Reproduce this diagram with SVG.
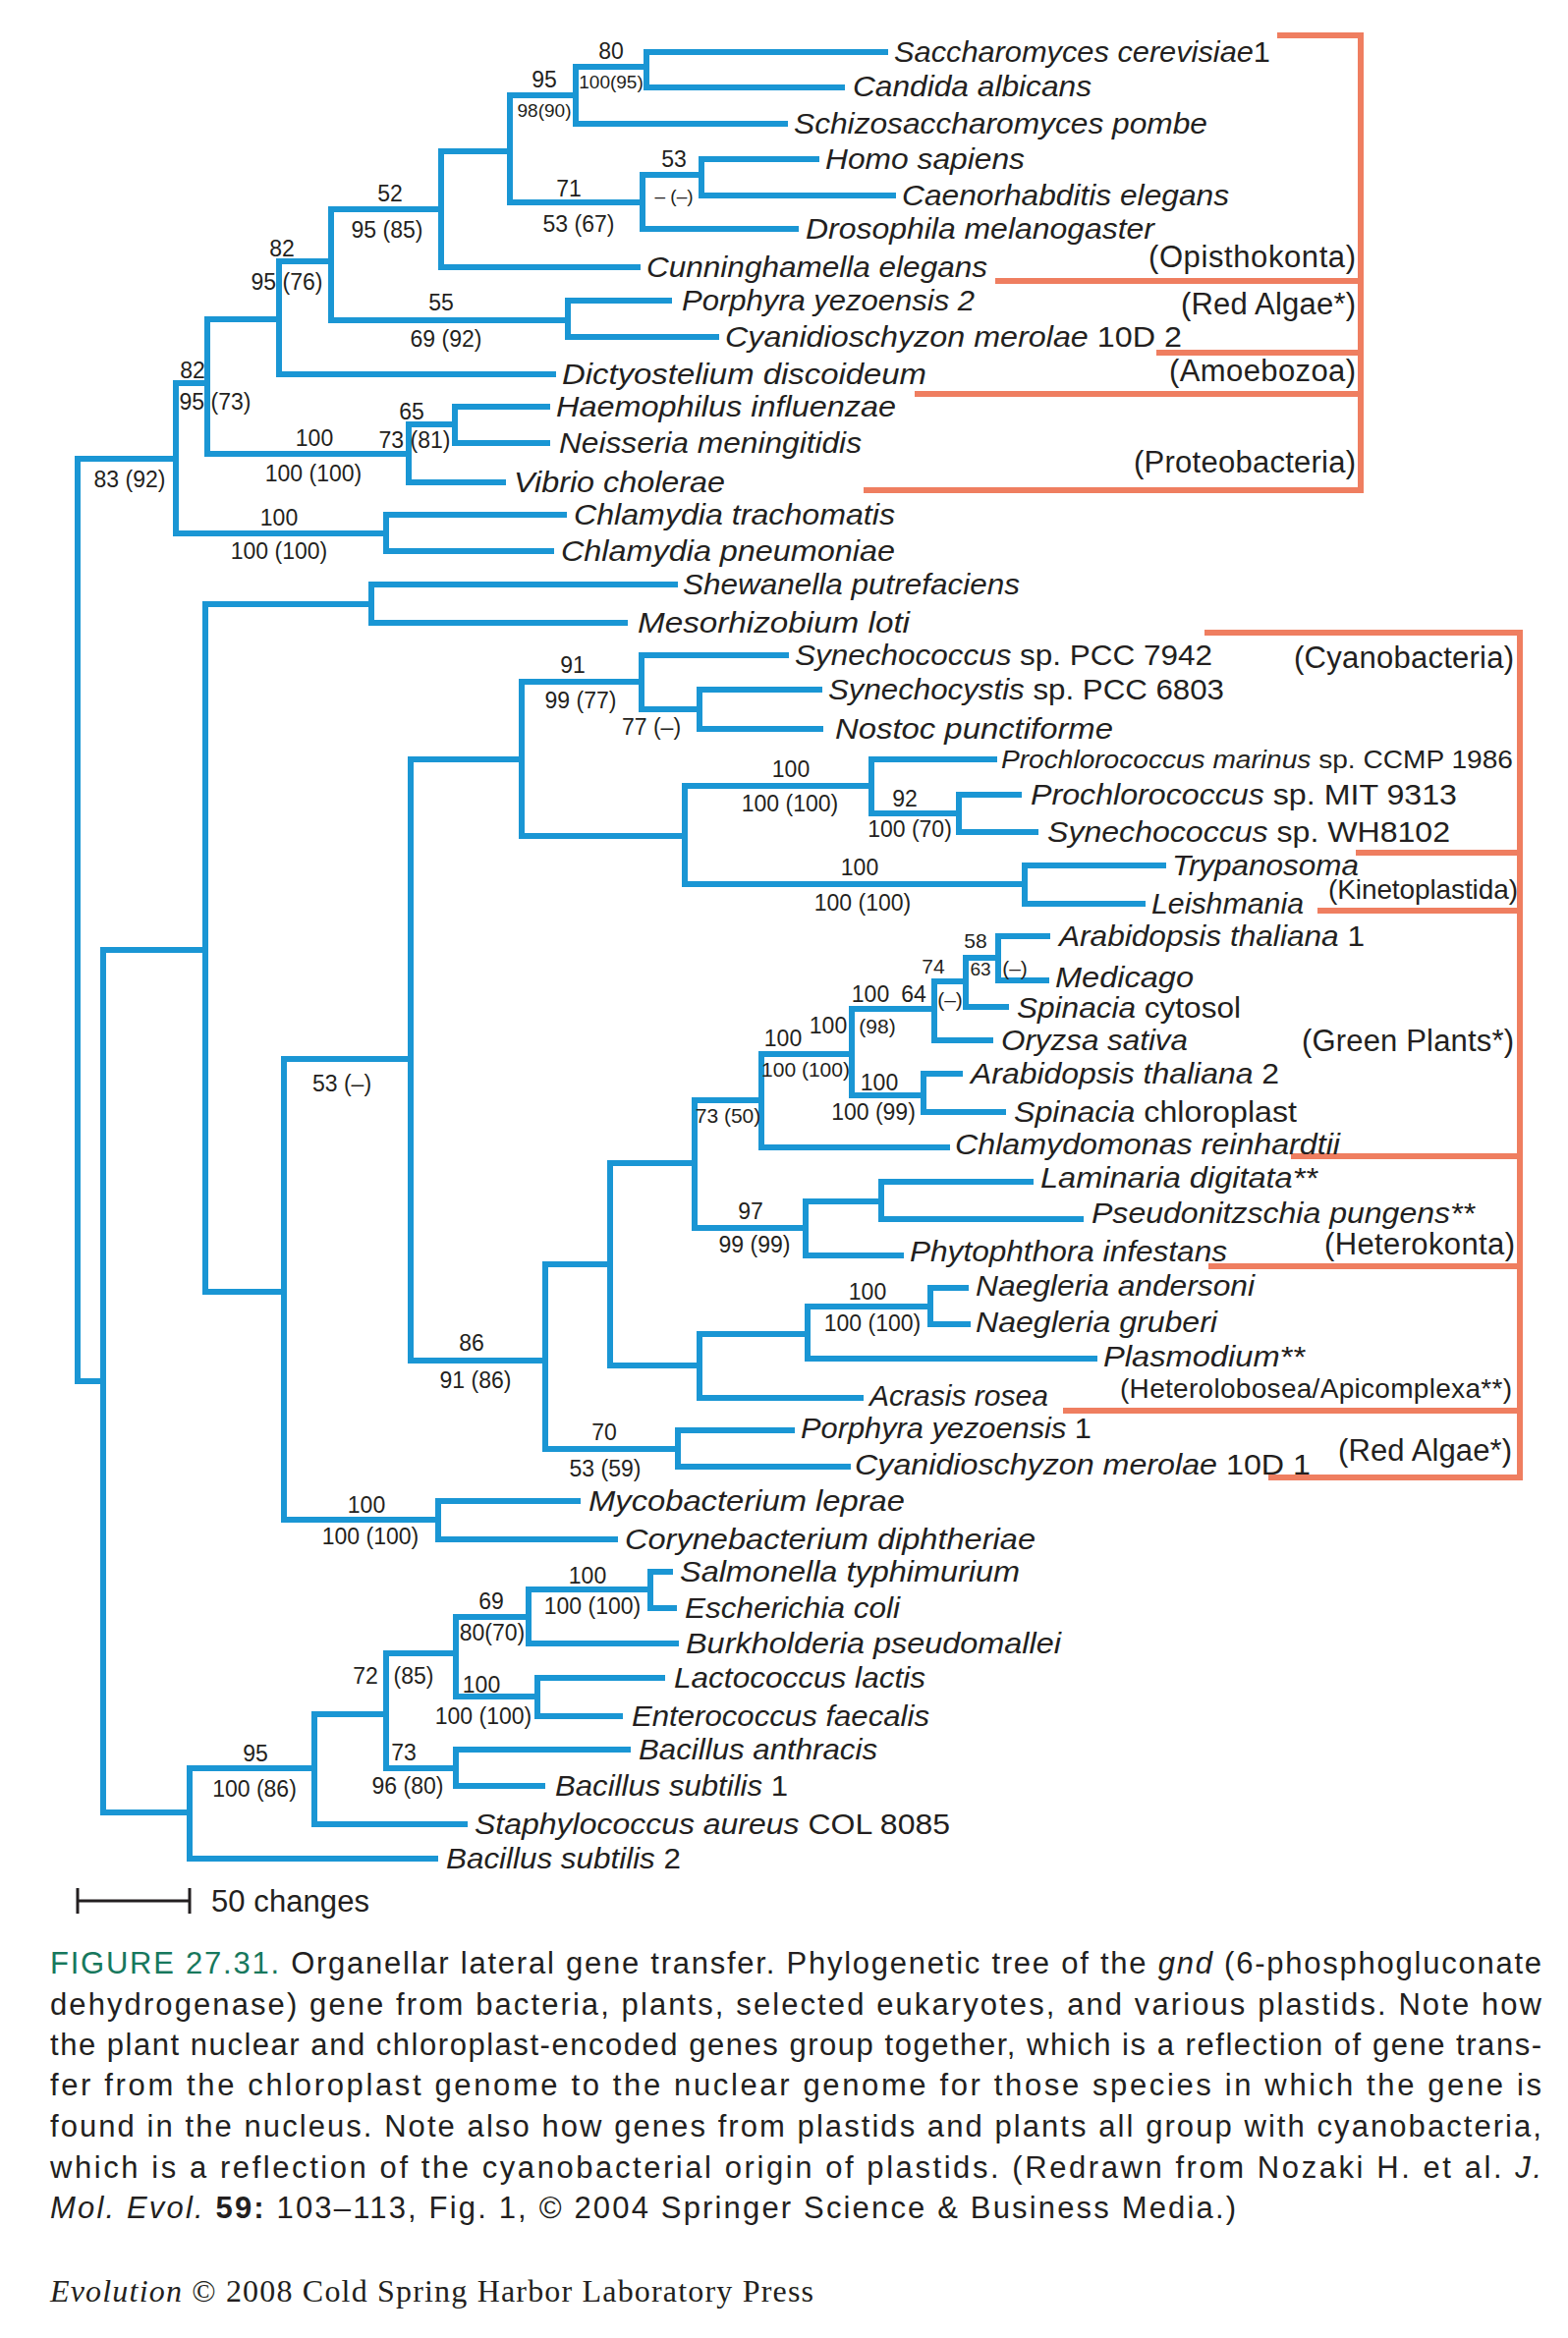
<svg xmlns="http://www.w3.org/2000/svg" width="1596" height="2380" viewBox="0 0 1596 2380">
<style>
.br{fill:none;stroke:#1a96d4;stroke-width:6;stroke-linejoin:miter}
.gr{fill:none;stroke:#ef7e60;stroke-width:6}
.sp{font-family:"Liberation Sans",Arial,sans-serif;font-size:30px;font-style:italic;fill:#231f20}
.up{font-style:normal}
.num{font-family:"Liberation Sans",Arial,sans-serif;font-size:23px;fill:#231f20;text-anchor:middle}
.sm{font-size:19px}
.md{font-size:21px}
.cl{font-family:"Liberation Sans",Arial,sans-serif;font-size:31px;fill:#231f20;text-anchor:end}
.cap{font-family:"Liberation Sans",Arial,sans-serif;font-size:31px;fill:#231f20}
.ft{font-family:"Liberation Serif","Times New Roman",serif;font-size:32px;fill:#231f20}
</style>
<rect width="1596" height="2380" fill="#ffffff"/>

<g id="connectors">
<path class="br" d="M179,467 H79 V1406 H105"/>
<path class="br" d="M211,390 H179 V543 H393"/>
<path class="br" d="M284,325 H211 V462 H416"/>
<path class="br" d="M337,266 H284 V381 H566"/>
<path class="br" d="M449,213 H337 V326 H578"/>
<path class="br" d="M519,154 H449 V272 H652"/>
<path class="br" d="M586,97 H519 V206 H654"/>
<path class="br" d="M658,68 H586 V126 H802"/>
<path class="br" d="M904,53 H658 V89 H860"/>
<path class="br" d="M714,178 H654 V233 H813"/>
<path class="br" d="M834,162 H714 V199 H912"/>
<path class="br" d="M684,306 H578 V343 H732"/>
<path class="br" d="M463,432 H416 V491 H515"/>
<path class="br" d="M560,414 H463 V451 H560"/>
<path class="br" d="M577,524 H393 V561 H564"/>
<path class="br" d="M209,967 H105 V1845 H193"/>
<path class="br" d="M378,615 H209 V1315 H289"/>
<path class="br" d="M690,595 H378 V634 H639"/>
<path class="br" d="M418,1078 H289 V1547 H446"/>
<path class="br" d="M531,773 H418 V1385 H555"/>
<path class="br" d="M653,694 H531 V851 H697"/>
<path class="br" d="M803,667 H653 V722 H712"/>
<path class="br" d="M837,702 H712 V742 H838"/>
<path class="br" d="M887,800 H697 V900 H1043"/>
<path class="br" d="M1015,773 H887 V828 H976"/>
<path class="br" d="M1040,809 H976 V847 H1057"/>
<path class="br" d="M1187,881 H1043 V920 H1166"/>
<path class="br" d="M621,1287 H555 V1475 H690"/>
<path class="br" d="M809,1456 H690 V1493 H866"/>
<path class="br" d="M707,1184 H621 V1390 H712"/>
<path class="br" d="M775,1120 H707 V1250 H820"/>
<path class="br" d="M867,1073 H775 V1168 H967"/>
<path class="br" d="M951,1027 H867 V1115 H940"/>
<path class="br" d="M983,999 H951 V1059 H1011"/>
<path class="br" d="M1016,975 H983 V1025 H1027"/>
<path class="br" d="M1069,953 H1016 V998 H1068"/>
<path class="br" d="M980,1093 H940 V1132 H1024"/>
<path class="br" d="M897,1223 H820 V1278 H920"/>
<path class="br" d="M1052,1203 H897 V1241 H1103"/>
<path class="br" d="M822,1358 H712 V1423 H879"/>
<path class="br" d="M947,1330 H822 V1383 H1117"/>
<path class="br" d="M986,1311 H947 V1348 H988"/>
<path class="br" d="M591,1528 H446 V1567 H629"/>
<path class="br" d="M320,1800 H193 V1892 H446"/>
<path class="br" d="M393,1745 H320 V1857 H476"/>
<path class="br" d="M464,1683 H393 V1800 H464"/>
<path class="br" d="M538,1646 H464 V1727 H547"/>
<path class="br" d="M662,1618 H538 V1673 H691"/>
<path class="br" d="M685,1600 H662 V1637 H689"/>
<path class="br" d="M677,1708 H547 V1747 H634"/>
<path class="br" d="M642,1781 H464 V1818 H555"/>
</g>

<g id="group-brackets">
<path class="gr" d="M1300,36 H1385 V499 H879"/>
<path class="gr" d="M1013,286 H1385 M1177,359 H1385 M931,401 H1385"/>
<path class="gr" d="M1226,644 H1547 V1504 H1291"/>
<path class="gr" d="M1380,868 H1547 M1341,927 H1547 M1314,1177 H1547 M1230,1289 H1547 M1082,1436 H1547"/>
<text class="cl" x="1380" y="272" textLength="211">(Opisthokonta)</text>
<text class="cl" x="1380" y="320" textLength="178">(Red Algae*)</text>
<text class="cl" x="1380" y="388" textLength="190">(Amoebozoa)</text>
<text class="cl" x="1380" y="481" textLength="226">(Proteobacteria)</text>
<text class="cl" x="1541" y="680" textLength="224">(Cyanobacteria)</text>
<text class="cl" x="1545" y="915" style="font-size:28px" textLength="193">(Kinetoplastida)</text>
<text class="cl" x="1541" y="1070" textLength="216">(Green Plants*)</text>
<text class="cl" x="1542" y="1277" textLength="194">(Heterokonta)</text>
<text class="cl" x="1539" y="1423" style="font-size:28px" textLength="399">(Heterolobosea/Apicomplexa**)</text>
<text class="cl" x="1539" y="1487" textLength="177">(Red Algae*)</text>
</g>

<g id="leaves">
<g id="n-scer"><text class="sp" x="910" y="63" textLength="383" lengthAdjust="spacingAndGlyphs">Saccharomyces cerevisiae<tspan class="up">1</tspan></text></g>
<g id="n-calb"><text class="sp" x="868" y="98" textLength="243" lengthAdjust="spacingAndGlyphs">Candida albicans</text></g>
<g id="n-spom"><text class="sp" x="808" y="136" textLength="421" lengthAdjust="spacingAndGlyphs">Schizosaccharomyces pombe</text></g>
<g id="n-hsap"><text class="sp" x="840" y="172" textLength="203" lengthAdjust="spacingAndGlyphs">Homo sapiens</text></g>
<g id="n-cele"><text class="sp" x="918" y="209" textLength="333" lengthAdjust="spacingAndGlyphs">Caenorhabditis elegans</text></g>
<g id="n-dmel"><text class="sp" x="820" y="243" textLength="355" lengthAdjust="spacingAndGlyphs">Drosophila melanogaster</text></g>
<g id="n-cunn"><text class="sp" x="658" y="282" textLength="347" lengthAdjust="spacingAndGlyphs">Cunninghamella elegans</text></g>
<g id="n-pyez2"><text class="sp" x="694" y="316" textLength="298" lengthAdjust="spacingAndGlyphs">Porphyra yezoensis 2</text></g>
<g id="n-cmer2"><text class="sp" x="738" y="353" textLength="465" lengthAdjust="spacingAndGlyphs">Cyanidioschyzon merolae <tspan class="up">10D 2</tspan></text></g>
<g id="n-ddis"><text class="sp" x="572" y="391" textLength="371" lengthAdjust="spacingAndGlyphs">Dictyostelium discoideum</text></g>
<g id="n-hinf"><text class="sp" x="566" y="424" textLength="346" lengthAdjust="spacingAndGlyphs">Haemophilus influenzae</text></g>
<g id="n-nmen"><text class="sp" x="569" y="461" textLength="308" lengthAdjust="spacingAndGlyphs">Neisseria meningitidis</text></g>
<g id="n-vcho"><text class="sp" x="523" y="501" textLength="215" lengthAdjust="spacingAndGlyphs">Vibrio cholerae</text></g>
<g id="n-ctra"><text class="sp" x="584" y="534" textLength="327" lengthAdjust="spacingAndGlyphs">Chlamydia trachomatis</text></g>
<g id="n-cpne"><text class="sp" x="571" y="571" textLength="340" lengthAdjust="spacingAndGlyphs">Chlamydia pneumoniae</text></g>
<g id="n-sput"><text class="sp" x="695" y="605" textLength="343" lengthAdjust="spacingAndGlyphs">Shewanella putrefaciens</text></g>
<g id="n-mlot"><text class="sp" x="649" y="644" textLength="277" lengthAdjust="spacingAndGlyphs">Mesorhizobium loti</text></g>
<g id="n-syn7942"><text class="sp" x="809" y="677" textLength="425" lengthAdjust="spacingAndGlyphs">Synechococcus <tspan class="up">sp. PCC 7942</tspan></text></g>
<g id="n-syn6803"><text class="sp" x="843" y="712" textLength="403" lengthAdjust="spacingAndGlyphs">Synechocystis <tspan class="up">sp. PCC 6803</tspan></text></g>
<g id="n-npun"><text class="sp" x="850" y="752" textLength="283" lengthAdjust="spacingAndGlyphs">Nostoc punctiforme</text></g>
<g id="n-pmar"><text class="sp" x="1019" y="782" style="font-size:26px" textLength="521" lengthAdjust="spacingAndGlyphs">Prochlorococcus marinus <tspan class="up">sp. CCMP 1986</tspan></text></g>
<g id="n-pmit"><text class="sp" x="1049" y="819" textLength="434" lengthAdjust="spacingAndGlyphs">Prochlorococcus <tspan class="up">sp. MIT 9313</tspan></text></g>
<g id="n-swh"><text class="sp" x="1066" y="857" textLength="410" lengthAdjust="spacingAndGlyphs">Synechococcus <tspan class="up">sp. WH8102</tspan></text></g>
<g id="n-tryp"><text class="sp" x="1193" y="891" textLength="190" lengthAdjust="spacingAndGlyphs">Trypanosoma</text></g>
<g id="n-leish"><text class="sp" x="1172" y="930" textLength="155" lengthAdjust="spacingAndGlyphs">Leishmania</text></g>
<g id="n-ath1"><text class="sp" x="1078" y="963" textLength="311" lengthAdjust="spacingAndGlyphs">Arabidopsis thaliana <tspan class="up">1</tspan></text></g>
<g id="n-medi"><text class="sp" x="1074" y="1005" textLength="141" lengthAdjust="spacingAndGlyphs">Medicago</text></g>
<g id="n-spcy"><text class="sp" x="1035" y="1036" textLength="228" lengthAdjust="spacingAndGlyphs">Spinacia <tspan class="up">cytosol</tspan></text></g>
<g id="n-osat"><text class="sp" x="1019" y="1069" textLength="190" lengthAdjust="spacingAndGlyphs">Oryzsa sativa</text></g>
<g id="n-ath2"><text class="sp" x="988" y="1103" textLength="314" lengthAdjust="spacingAndGlyphs">Arabidopsis thaliana <tspan class="up">2</tspan></text></g>
<g id="n-spch"><text class="sp" x="1032" y="1142" textLength="288" lengthAdjust="spacingAndGlyphs">Spinacia <tspan class="up">chloroplast</tspan></text></g>
<g id="n-crei"><text class="sp" x="972" y="1175" textLength="392" lengthAdjust="spacingAndGlyphs">Chlamydomonas reinhardtii</text></g>
<g id="n-ldig"><text class="sp" x="1059" y="1209" textLength="282" lengthAdjust="spacingAndGlyphs">Laminaria digitata**</text></g>
<g id="n-ppun"><text class="sp" x="1111" y="1245" textLength="390" lengthAdjust="spacingAndGlyphs">Pseudonitzschia pungens**</text></g>
<g id="n-pinf"><text class="sp" x="926" y="1284" textLength="323" lengthAdjust="spacingAndGlyphs">Phytophthora infestans</text></g>
<g id="n-nand"><text class="sp" x="993" y="1319" textLength="284" lengthAdjust="spacingAndGlyphs">Naegleria andersoni</text></g>
<g id="n-ngru"><text class="sp" x="993" y="1356" textLength="246" lengthAdjust="spacingAndGlyphs">Naegleria gruberi</text></g>
<g id="n-plas"><text class="sp" x="1123" y="1391" textLength="205" lengthAdjust="spacingAndGlyphs">Plasmodium**</text></g>
<g id="n-aros"><text class="sp" x="885" y="1431" textLength="182" lengthAdjust="spacingAndGlyphs">Acrasis rosea</text></g>
<g id="n-pyez1"><text class="sp" x="815" y="1464" textLength="296" lengthAdjust="spacingAndGlyphs">Porphyra yezoensis <tspan class="up">1</tspan></text></g>
<g id="n-cmer1"><text class="sp" x="870" y="1501" textLength="464" lengthAdjust="spacingAndGlyphs">Cyanidioschyzon merolae <tspan class="up">10D 1</tspan></text></g>
<g id="n-mlep"><text class="sp" x="599" y="1538" textLength="322" lengthAdjust="spacingAndGlyphs">Mycobacterium leprae</text></g>
<g id="n-cdip"><text class="sp" x="636" y="1577" textLength="418" lengthAdjust="spacingAndGlyphs">Corynebacterium diphtheriae</text></g>
<g id="n-styp"><text class="sp" x="692" y="1610" textLength="346" lengthAdjust="spacingAndGlyphs">Salmonella typhimurium</text></g>
<g id="n-ecol"><text class="sp" x="697" y="1647" textLength="219" lengthAdjust="spacingAndGlyphs">Escherichia coli</text></g>
<g id="n-bpse"><text class="sp" x="698" y="1683" textLength="382" lengthAdjust="spacingAndGlyphs">Burkholderia pseudomallei</text></g>
<g id="n-llac"><text class="sp" x="686" y="1718" textLength="256" lengthAdjust="spacingAndGlyphs">Lactococcus lactis</text></g>
<g id="n-efae"><text class="sp" x="643" y="1757" textLength="303" lengthAdjust="spacingAndGlyphs">Enterococcus faecalis</text></g>
<g id="n-bant"><text class="sp" x="650" y="1791" textLength="243" lengthAdjust="spacingAndGlyphs">Bacillus anthracis</text></g>
<g id="n-bsub1"><text class="sp" x="565" y="1828" textLength="237" lengthAdjust="spacingAndGlyphs">Bacillus subtilis <tspan class="up">1</tspan></text></g>
<g id="n-saur"><text class="sp" x="483" y="1867" textLength="484" lengthAdjust="spacingAndGlyphs">Staphylococcus aureus <tspan class="up">COL 8085</tspan></text></g>
<g id="n-bsub2"><text class="sp" x="454" y="1902" textLength="239" lengthAdjust="spacingAndGlyphs">Bacillus subtilis <tspan class="up">2</tspan></text></g>
</g>

<g id="support-values">
<text class="num" x="132" y="496">83 (92)</text>
<text class="num" x="196" y="385">82</text>
<text class="num" x="219" y="417">95 (73)</text>
<text class="num" x="287" y="261">82</text>
<text class="num" x="292" y="295">95 (76)</text>
<text class="num" x="397" y="205">52</text>
<text class="num" x="394" y="242">95 (85)</text>
<text class="num" x="449" y="316">55</text>
<text class="num" x="454" y="353">69 (92)</text>
<text class="num" x="554" y="89">95</text>
<text class="num sm" x="554" y="119">98(90)</text>
<text class="num" x="579" y="200">71</text>
<text class="num" x="589" y="236">53 (67)</text>
<text class="num" x="622" y="60">80</text>
<text class="num sm" x="622" y="90">100(95)</text>
<text class="num" x="686" y="170">53</text>
<text class="num sm" x="686" y="206">– (–)</text>
<text class="num" x="320" y="454">100</text>
<text class="num" x="319" y="490">100 (100)</text>
<text class="num" x="419" y="427">65</text>
<text class="num" x="422" y="456">73 (81)</text>
<text class="num" x="284" y="535">100</text>
<text class="num" x="284" y="569">100 (100)</text>
<text class="num" x="348" y="1111">53 (–)</text>
<text class="num" x="583" y="685">91</text>
<text class="num" x="591" y="721">99 (77)</text>
<text class="num" x="663" y="748">77 (–)</text>
<text class="num" x="805" y="791">100</text>
<text class="num" x="804" y="826">100 (100)</text>
<text class="num" x="921" y="821">92</text>
<text class="num" x="926" y="852">100 (70)</text>
<text class="num" x="875" y="891">100</text>
<text class="num" x="878" y="927">100 (100)</text>
<text class="num md" x="993" y="965">58</text>
<text class="num sm" x="998" y="993">63</text>
<text class="num md" x="1033" y="993">(–)</text>
<text class="num md" x="950" y="991">74</text>
<text class="num" x="886" y="1020">100</text>
<text class="num" x="930" y="1020">64</text>
<text class="num md" x="967" y="1025">(–)</text>
<text class="num" x="843" y="1052">100</text>
<text class="num md" x="893" y="1052">(98)</text>
<text class="num" x="797" y="1065">100</text>
<text class="num md" x="820" y="1096">100 (100)</text>
<text class="num" x="895" y="1110">100</text>
<text class="num" x="889" y="1140">100 (99)</text>
<text class="num md" x="741" y="1143">73 (50)</text>
<text class="num" x="764" y="1241">97</text>
<text class="num" x="768" y="1275">99 (99)</text>
<text class="num" x="883" y="1323">100</text>
<text class="num" x="888" y="1355">100 (100)</text>
<text class="num" x="480" y="1375">86</text>
<text class="num" x="484" y="1413">91 (86)</text>
<text class="num" x="615" y="1466">70</text>
<text class="num" x="616" y="1503">53 (59)</text>
<text class="num" x="373" y="1540">100</text>
<text class="num" x="377" y="1572">100 (100)</text>
<text class="num" x="598" y="1612">100</text>
<text class="num" x="603" y="1643">100 (100)</text>
<text class="num" x="500" y="1638">69</text>
<text class="num" x="501" y="1670">80(70)</text>
<text class="num" x="372" y="1714">72</text>
<text class="num" x="421" y="1714">(85)</text>
<text class="num" x="490" y="1723">100</text>
<text class="num" x="492" y="1755">100 (100)</text>
<text class="num" x="411" y="1792">73</text>
<text class="num" x="415" y="1826">96 (80)</text>
<text class="num" x="260" y="1793">95</text>
<text class="num" x="259" y="1829">100 (86)</text>
</g>

<g id="scale-bar">
<path d="M79,1935 H193 M79,1922 V1948 M193,1922 V1948" fill="none" stroke="#231f20" stroke-width="3"/>
<text class="cap" x="215" y="1946" textLength="161">50 changes</text>
</g>

<g id="caption">
<text class="cap" x="51" y="2009" textLength="1518" lengthAdjust="spacing"><tspan fill="#17785d">FIGURE 27.31.</tspan> Organellar lateral gene transfer. Phylogenetic tree of the <tspan font-style="italic">gnd</tspan> (6-phosphogluconate</text>
<text class="cap" x="51" y="2051" textLength="1518" lengthAdjust="spacing">dehydrogenase) gene from bacteria, plants, selected eukaryotes, and various plastids. Note how</text>
<text class="cap" x="51" y="2092" textLength="1518" lengthAdjust="spacing">the plant nuclear and chloroplast-encoded genes group together, which is a reflection of gene trans-</text>
<text class="cap" x="51" y="2133" textLength="1518" lengthAdjust="spacing">fer from the chloroplast genome to the nuclear genome for those species in which the gene is</text>
<text class="cap" x="51" y="2175" textLength="1518" lengthAdjust="spacing">found in the nucleus. Note also how genes from plastids and plants all group with cyanobacteria,</text>
<text class="cap" x="51" y="2217" textLength="1518" lengthAdjust="spacing">which is a reflection of the cyanobacterial origin of plastids. (Redrawn from Nozaki H. et al. <tspan font-style="italic">J.</tspan></text>
<text class="cap" x="51" y="2258" textLength="1207" lengthAdjust="spacing"><tspan font-style="italic">Mol. Evol.</tspan> <tspan font-weight="bold">59:</tspan> 103–113, Fig. 1, © 2004 Springer Science &amp; Business Media.)</text>
</g>

<g id="footer">
<text class="ft" x="51" y="2343" textLength="777" lengthAdjust="spacing"><tspan font-style="italic">Evolution</tspan> © 2008 Cold Spring Harbor Laboratory Press</text>
</g>
</svg>
